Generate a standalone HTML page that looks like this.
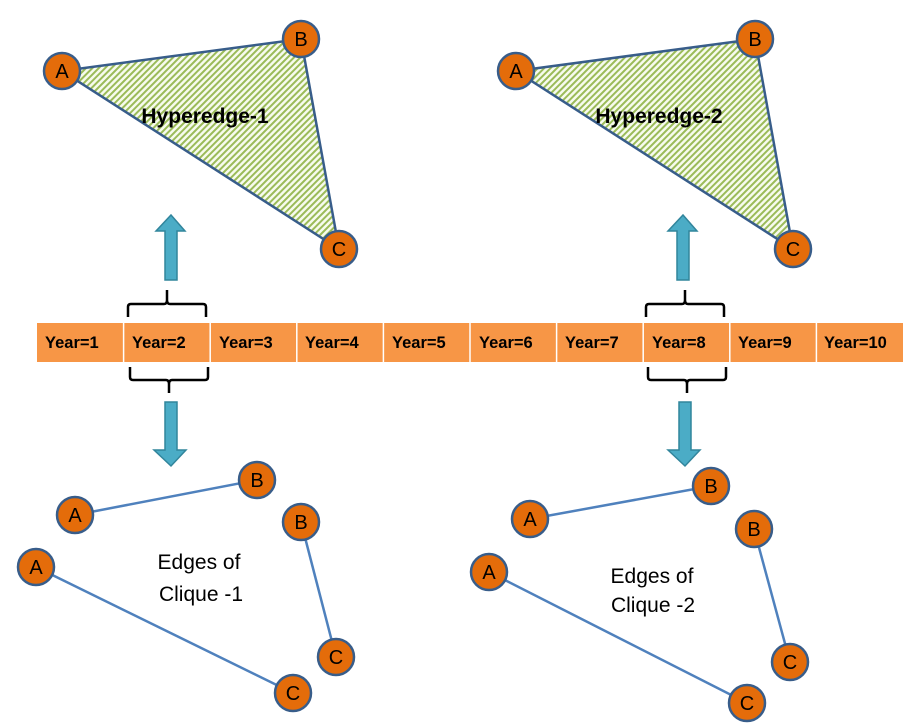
<!DOCTYPE html>
<html><head><meta charset="utf-8"><style>body{margin:0;background:#fff}svg{display:block}</style></head><body>
<svg width="920" height="727" viewBox="0 0 920 727" xmlns="http://www.w3.org/2000/svg" font-family="Liberation Sans, sans-serif">
<defs>
<pattern id="h" patternUnits="userSpaceOnUse" width="4.5" height="4.5" patternTransform="rotate(45)">
<rect width="4.5" height="4.5" fill="#F7FBEE"/><rect width="2" height="4.5" fill="#9BBB59"/>
</pattern>
<g id="node"><circle r="18" fill="#E46C0A" stroke="#385D8A" stroke-width="2.5"/></g>
</defs>
<polygon points="62,71 301,39 339,249" fill="url(#h)" stroke="#385D8A" stroke-width="2.5"/>
<polygon points="516,71 755,39 793,249" fill="url(#h)" stroke="#385D8A" stroke-width="2.5"/>
<g font-size="21" text-anchor="middle" font-weight="bold" fill="#000">
<text x="205" y="123">Hyperedge-1</text>
<text x="659" y="123">Hyperedge-2</text>
</g>
<g stroke="#4F81BD" stroke-width="2.5">
<line x1="75" y1="515" x2="257" y2="480"/><line x1="301" y1="522" x2="336" y2="657"/><line x1="36" y1="567" x2="293" y2="693"/>
<line x1="530" y1="519" x2="711" y2="486"/><line x1="754" y1="529" x2="790" y2="662"/><line x1="489" y1="572" x2="747" y2="703"/>
</g>
<g font-size="20" text-anchor="middle" fill="#000">
<use href="#node" x="62" y="71"/><text x="62" y="78">A</text>
<use href="#node" x="301" y="39"/><text x="301" y="46">B</text>
<use href="#node" x="339" y="249"/><text x="339" y="256">C</text>
<use href="#node" x="516" y="71"/><text x="516" y="78">A</text>
<use href="#node" x="755" y="39"/><text x="755" y="46">B</text>
<use href="#node" x="793" y="249"/><text x="793" y="256">C</text>
<use href="#node" x="75" y="515"/><text x="75" y="522">A</text>
<use href="#node" x="257" y="480"/><text x="257" y="487">B</text>
<use href="#node" x="301" y="522"/><text x="301" y="529">B</text>
<use href="#node" x="336" y="657"/><text x="336" y="664">C</text>
<use href="#node" x="36" y="567"/><text x="36" y="574">A</text>
<use href="#node" x="293" y="693"/><text x="293" y="700">C</text>
<use href="#node" x="530" y="519"/><text x="530" y="526">A</text>
<use href="#node" x="711" y="486"/><text x="711" y="493">B</text>
<use href="#node" x="754" y="529"/><text x="754" y="536">B</text>
<use href="#node" x="790" y="662"/><text x="790" y="669">C</text>
<use href="#node" x="489" y="572"/><text x="489" y="579">A</text>
<use href="#node" x="747" y="703"/><text x="747" y="710">C</text>
</g>
<g font-size="21" text-anchor="middle" fill="#000">
<text x="199" y="569">Edges of</text><text x="201" y="601">Clique -1</text>
<text x="652" y="583">Edges of</text><text x="653" y="612">Clique -2</text>
</g>
<rect x="37" y="323" width="866" height="39" fill="#F79646"/>
<g stroke="#fff" stroke-width="1.5">
<line x1="123.6" y1="323" x2="123.6" y2="362"/><line x1="210.2" y1="323" x2="210.2" y2="362"/><line x1="296.8" y1="323" x2="296.8" y2="362"/><line x1="383.4" y1="323" x2="383.4" y2="362"/><line x1="470" y1="323" x2="470" y2="362"/><line x1="556.6" y1="323" x2="556.6" y2="362"/><line x1="643.2" y1="323" x2="643.2" y2="362"/><line x1="729.8" y1="323" x2="729.8" y2="362"/><line x1="816.4" y1="323" x2="816.4" y2="362"/>
</g>
<g font-size="16.5" font-weight="bold" fill="#000">
<text x="45" y="348">Year=1</text><text x="132" y="348">Year=2</text><text x="219" y="348">Year=3</text><text x="305" y="348">Year=4</text><text x="392" y="348">Year=5</text><text x="479" y="348">Year=6</text><text x="565" y="348">Year=7</text><text x="652" y="348">Year=8</text><text x="738" y="348">Year=9</text><text x="824" y="348">Year=10</text>
</g>
<g fill="none" stroke="#000" stroke-width="2.5">
<path d="M128,317 V307 Q128,304 131,304 H164 Q167,304 167,300 V290 M167,300 Q167,304 170,304 H203 Q206,304 206,307 V317"/>
<path d="M130,367 V377 Q130,380 133,380 H166 Q169,380 169,384 V393 M169,384 Q169,380 172,380 H205 Q208,380 208,377 V367"/>
<path d="M646,317 V307 Q646,304 649,304 H682 Q685,304 685,300 V290 M685,300 Q685,304 688,304 H721 Q724,304 724,307 V317"/>
<path d="M648,367 V377 Q648,380 651,380 H684 Q687,380 687,384 V393 M687,384 Q687,380 690,380 H723 Q726,380 726,377 V367"/>
</g>
<g fill="#4BACC6" stroke="#31859C" stroke-width="1.5">
<polygon points="171,215 185,231 177,231 177,280 165,280 165,231 156,231"/>
<polygon points="683,215 697,231 689,231 689,280 677,280 677,231 668,231"/>
<polygon points="165,402 177,402 177,450 186,450 171,466 154,450 165,450"/>
<polygon points="679,402 691,402 691,450 700,450 685,466 668,450 679,450"/>
</g>
</svg>
</body></html>
